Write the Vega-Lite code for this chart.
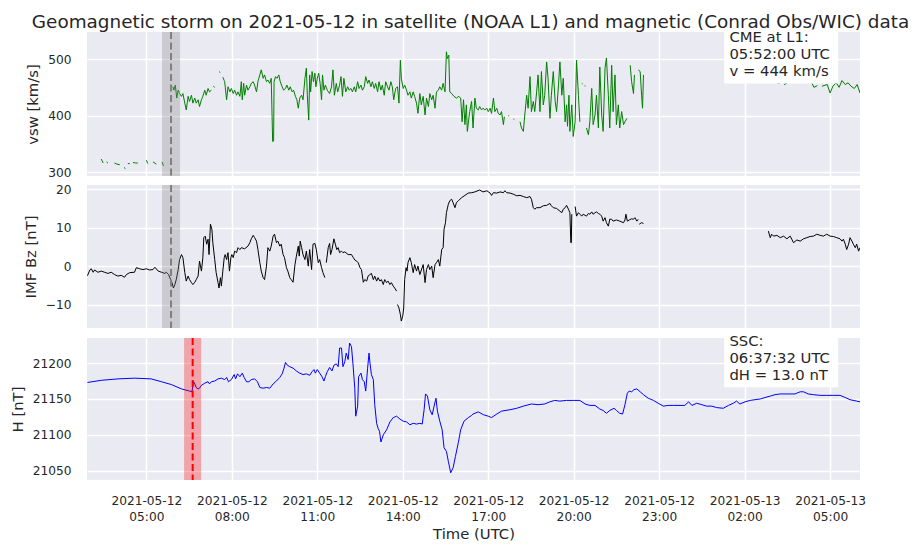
{
"$schema": "https://vega.github.io/schema/vega-lite/v6.json",
"background": "white",
"padding": {"left": 10, "top": 13, "right": 5, "bottom": 0},
"spacing": 1,
"config": {
  "font": "DejaVu Sans",
  "view": {"fill": "#EAEAF2", "stroke": null},
  "axis": {"domain": false, "ticks": false, "grid": true, "gridColor": "#ffffff", "gridWidth": 1.5, "labelFont": "DejaVu Sans", "labelFontSize": 12.2, "labelColor": "#262626", "labelPadding": 16, "titleFont": "DejaVu Sans", "titleFontSize": 14.8, "titleFontWeight": "normal", "titleColor": "#262626", "titlePadding": 7},
  "text": {"font": "DejaVu Sans"}
},
"datasets": {
  "vsw": [
    {"t":"2021-05-12T03:25","v":323},{"t":"2021-05-12T03:29","v":316},{"t":"2021-05-12T03:31","v":null},
    {"t":"2021-05-12T03:36","v":318},{"t":"2021-05-12T03:39","v":316},{"t":"2021-05-12T03:41","v":null},
    {"t":"2021-05-12T03:53","v":316},{"t":"2021-05-12T03:58","v":314},{"t":"2021-05-12T04:04","v":313},{"t":"2021-05-12T04:06","v":null},
    {"t":"2021-05-12T04:13","v":308},{"t":"2021-05-12T04:16","v":306},{"t":"2021-05-12T04:18","v":null},
    {"t":"2021-05-12T04:21","v":315},{"t":"2021-05-12T04:25","v":315},{"t":"2021-05-12T04:27","v":null},
    {"t":"2021-05-12T04:32","v":317},{"t":"2021-05-12T04:37","v":316},{"t":"2021-05-12T04:42","v":316},{"t":"2021-05-12T04:44","v":null},
    {"t":"2021-05-12T05:00","v":321},{"t":"2021-05-12T05:03","v":315},{"t":"2021-05-12T05:05","v":null},
    {"t":"2021-05-12T05:14","v":318},{"t":"2021-05-12T05:21","v":314},{"t":"2021-05-12T05:23","v":null},
    {"t":"2021-05-12T05:33","v":318},{"t":"2021-05-12T05:36","v":311},{"t":"2021-05-12T05:38","v":null},
    {"t":"2021-05-12T05:56","v":451},{"t":"2021-05-12T05:58","v":445},{"t":"2021-05-12T06:01","v":454},{"t":"2021-05-12T06:04","v":431},
    {"t":"2021-05-12T06:07","v":445},{"t":"2021-05-12T06:10","v":439},{"t":"2021-05-12T06:14","v":434},{"t":"2021-05-12T06:17","v":439},
    {"t":"2021-05-12T06:21","v":422},{"t":"2021-05-12T06:24","v":410},{"t":"2021-05-12T06:28","v":434},{"t":"2021-05-12T06:31","v":425},
    {"t":"2021-05-12T06:35","v":436},{"t":"2021-05-12T06:38","v":422},{"t":"2021-05-12T06:42","v":431},{"t":"2021-05-12T06:45","v":422},
    {"t":"2021-05-12T06:49","v":428},{"t":"2021-05-12T06:52","v":416},{"t":"2021-05-12T06:56","v":428},{"t":"2021-05-12T06:59","v":434},
    {"t":"2021-05-12T07:03","v":445},{"t":"2021-05-12T07:06","v":436},{"t":"2021-05-12T07:10","v":448},{"t":"2021-05-12T07:13","v":442},
    {"t":"2021-05-12T07:17","v":445},{"t":"2021-05-12T07:19","v":null},{"t":"2021-05-12T07:21","v":452},{"t":"2021-05-12T07:24","v":450},
    {"t":"2021-05-12T07:26","v":null},{"t":"2021-05-12T07:34","v":478},{"t":"2021-05-12T07:35","v":476},{"t":"2021-05-12T07:38","v":null},
    {"t":"2021-05-12T07:41","v":468},{"t":"2021-05-12T07:44","v":462},{"t":"2021-05-12T07:45","v":460},{"t":"2021-05-12T07:49","v":428},
    {"t":"2021-05-12T07:52","v":451},{"t":"2021-05-12T07:56","v":442},{"t":"2021-05-12T07:59","v":448},{"t":"2021-05-12T08:03","v":439},
    {"t":"2021-05-12T08:06","v":445},{"t":"2021-05-12T08:10","v":436},{"t":"2021-05-12T08:13","v":442},{"t":"2021-05-12T08:17","v":434},
    {"t":"2021-05-12T08:20","v":460},{"t":"2021-05-12T08:22","v":428},{"t":"2021-05-12T08:25","v":457},{"t":"2021-05-12T08:27","v":436},
    {"t":"2021-05-12T08:31","v":454},{"t":"2021-05-12T08:34","v":445},{"t":"2021-05-12T08:38","v":451},{"t":"2021-05-12T08:41","v":457},
    {"t":"2021-05-12T08:45","v":460},{"t":"2021-05-12T08:48","v":454},{"t":"2021-05-12T08:52","v":442},{"t":"2021-05-12T08:55","v":460},
    {"t":"2021-05-12T08:59","v":472},{"t":"2021-05-12T09:02","v":481},{"t":"2021-05-12T09:06","v":466},{"t":"2021-05-12T09:09","v":472},
    {"t":"2021-05-12T09:13","v":460},{"t":"2021-05-12T09:16","v":463},{"t":"2021-05-12T09:20","v":457},{"t":"2021-05-12T09:23","v":466},
    {"t":"2021-05-12T09:26","v":354},{"t":"2021-05-12T09:28","v":355},{"t":"2021-05-12T09:29","v":460},{"t":"2021-05-12T09:32","v":469},
    {"t":"2021-05-12T09:35","v":466},{"t":"2021-05-12T09:39","v":472},{"t":"2021-05-12T09:42","v":460},{"t":"2021-05-12T09:46","v":451},
    {"t":"2021-05-12T09:49","v":445},{"t":"2021-05-12T09:53","v":448},{"t":"2021-05-12T09:56","v":454},{"t":"2021-05-12T10:00","v":445},
    {"t":"2021-05-12T10:03","v":451},{"t":"2021-05-12T10:07","v":442},{"t":"2021-05-12T10:10","v":445},{"t":"2021-05-12T10:14","v":434},
    {"t":"2021-05-12T10:17","v":428},{"t":"2021-05-12T10:20","v":413},{"t":"2021-05-12T10:23","v":431},{"t":"2021-05-12T10:27","v":436},
    {"t":"2021-05-12T10:30","v":428},{"t":"2021-05-12T10:34","v":466},{"t":"2021-05-12T10:37","v":484},{"t":"2021-05-12T10:39","v":436},
    {"t":"2021-05-12T10:42","v":392},{"t":"2021-05-12T10:44","v":472},{"t":"2021-05-12T10:46","v":442},{"t":"2021-05-12T10:49","v":478},
    {"t":"2021-05-12T10:52","v":460},{"t":"2021-05-12T10:55","v":475},{"t":"2021-05-12T10:57","v":451},{"t":"2021-05-12T11:00","v":466},
    {"t":"2021-05-12T11:03","v":475},{"t":"2021-05-12T11:06","v":457},{"t":"2021-05-12T11:09","v":428},{"t":"2021-05-12T11:11","v":472},
    {"t":"2021-05-12T11:14","v":445},{"t":"2021-05-12T11:17","v":454},{"t":"2021-05-12T11:21","v":445},{"t":"2021-05-12T11:26","v":439},
    {"t":"2021-05-12T11:30","v":451},{"t":"2021-05-12T11:33","v":481},{"t":"2021-05-12T11:36","v":436},{"t":"2021-05-12T11:40","v":457},
    {"t":"2021-05-12T11:43","v":442},{"t":"2021-05-12T11:47","v":454},{"t":"2021-05-12T11:50","v":469},{"t":"2021-05-12T11:53","v":434},
    {"t":"2021-05-12T11:56","v":466},{"t":"2021-05-12T12:00","v":442},{"t":"2021-05-12T12:04","v":451},{"t":"2021-05-12T12:07","v":445},
    {"t":"2021-05-12T12:11","v":448},{"t":"2021-05-12T12:14","v":442},{"t":"2021-05-12T12:18","v":451},{"t":"2021-05-12T12:21","v":442},
    {"t":"2021-05-12T12:25","v":460},{"t":"2021-05-12T12:28","v":448},{"t":"2021-05-12T12:32","v":454},{"t":"2021-05-12T12:35","v":445},
    {"t":"2021-05-12T12:39","v":451},{"t":"2021-05-12T12:42","v":469},{"t":"2021-05-12T12:46","v":457},{"t":"2021-05-12T12:49","v":463},
    {"t":"2021-05-12T12:53","v":451},{"t":"2021-05-12T12:56","v":460},{"t":"2021-05-12T13:00","v":448},{"t":"2021-05-12T13:03","v":457},
    {"t":"2021-05-12T13:07","v":442},{"t":"2021-05-12T13:10","v":460},{"t":"2021-05-12T13:14","v":445},{"t":"2021-05-12T13:17","v":454},
    {"t":"2021-05-12T13:21","v":436},{"t":"2021-05-12T13:24","v":460},{"t":"2021-05-12T13:28","v":451},{"t":"2021-05-12T13:31","v":445},
    {"t":"2021-05-12T13:35","v":460},{"t":"2021-05-12T13:38","v":451},{"t":"2021-05-12T13:41","v":428},{"t":"2021-05-12T13:45","v":448},
    {"t":"2021-05-12T13:49","v":451},{"t":"2021-05-12T13:52","v":422},{"t":"2021-05-12T13:55","v":498},{"t":"2021-05-12T13:57","v":466},
    {"t":"2021-05-12T14:01","v":448},{"t":"2021-05-12T14:04","v":454},{"t":"2021-05-12T14:08","v":445},{"t":"2021-05-12T14:11","v":436},
    {"t":"2021-05-12T14:15","v":442},{"t":"2021-05-12T14:18","v":431},{"t":"2021-05-12T14:22","v":442},{"t":"2021-05-12T14:25","v":434},
    {"t":"2021-05-12T14:29","v":422},{"t":"2021-05-12T14:32","v":404},{"t":"2021-05-12T14:36","v":439},{"t":"2021-05-12T14:39","v":419},
    {"t":"2021-05-12T14:43","v":434},{"t":"2021-05-12T14:47","v":401},{"t":"2021-05-12T14:50","v":431},{"t":"2021-05-12T14:54","v":416},
    {"t":"2021-05-12T14:57","v":439},{"t":"2021-05-12T15:01","v":428},{"t":"2021-05-12T15:04","v":436},{"t":"2021-05-12T15:08","v":413},
    {"t":"2021-05-12T15:11","v":442},{"t":"2021-05-12T15:15","v":445},{"t":"2021-05-12T15:18","v":451},{"t":"2021-05-12T15:22","v":445},
    {"t":"2021-05-12T15:25","v":457},{"t":"2021-05-12T15:29","v":442},{"t":"2021-05-12T15:32","v":513},{"t":"2021-05-12T15:34","v":501},
    {"t":"2021-05-12T15:37","v":507},{"t":"2021-05-12T15:39","v":442},{"t":"2021-05-12T15:43","v":439},{"t":"2021-05-12T15:48","v":434},
    {"t":"2021-05-12T15:53","v":431},{"t":"2021-05-12T15:58","v":434},{"t":"2021-05-12T16:02","v":431},{"t":"2021-05-12T16:05","v":389},
    {"t":"2021-05-12T16:08","v":428},{"t":"2021-05-12T16:11","v":384},{"t":"2021-05-12T16:14","v":419},{"t":"2021-05-12T16:16","v":372},
    {"t":"2021-05-12T16:21","v":407},{"t":"2021-05-12T16:25","v":425},{"t":"2021-05-12T16:28","v":378},{"t":"2021-05-12T16:32","v":431},
    {"t":"2021-05-12T16:35","v":413},{"t":"2021-05-12T16:39","v":410},{"t":"2021-05-12T16:42","v":416},{"t":"2021-05-12T16:46","v":410},
    {"t":"2021-05-12T16:49","v":413},{"t":"2021-05-12T16:53","v":410},{"t":"2021-05-12T16:57","v":413},{"t":"2021-05-12T17:00","v":407},
    {"t":"2021-05-12T17:04","v":413},{"t":"2021-05-12T17:07","v":404},{"t":"2021-05-12T17:11","v":431},{"t":"2021-05-12T17:14","v":407},
    {"t":"2021-05-12T17:18","v":413},{"t":"2021-05-12T17:21","v":404},{"t":"2021-05-12T17:25","v":401},{"t":"2021-05-12T17:28","v":407},
    {"t":"2021-05-12T17:32","v":384},{"t":"2021-05-12T17:34","v":398},{"t":"2021-05-12T17:36","v":null},
    {"t":"2021-05-12T17:42","v":400},{"t":"2021-05-12T17:44","v":399},{"t":"2021-05-12T17:46","v":null},
    {"t":"2021-05-12T17:53","v":394},{"t":"2021-05-12T17:55","v":393},{"t":"2021-05-12T17:57","v":null},
    {"t":"2021-05-12T18:07","v":389},{"t":"2021-05-12T18:10","v":378},{"t":"2021-05-12T18:14","v":372},{"t":"2021-05-12T18:17","v":401},
    {"t":"2021-05-12T18:21","v":436},{"t":"2021-05-12T18:24","v":413},{"t":"2021-05-12T18:28","v":469},{"t":"2021-05-12T18:31","v":407},
    {"t":"2021-05-12T18:35","v":425},{"t":"2021-05-12T18:38","v":407},{"t":"2021-05-12T18:42","v":442},{"t":"2021-05-12T18:45","v":472},
    {"t":"2021-05-12T18:49","v":407},{"t":"2021-05-12T18:52","v":478},{"t":"2021-05-12T18:56","v":419},{"t":"2021-05-12T18:59","v":436},
    {"t":"2021-05-12T19:03","v":495},{"t":"2021-05-12T19:06","v":466},{"t":"2021-05-12T19:10","v":395},{"t":"2021-05-12T19:13","v":436},
    {"t":"2021-05-12T19:17","v":478},{"t":"2021-05-12T19:21","v":425},{"t":"2021-05-12T19:24","v":407},{"t":"2021-05-12T19:28","v":454},
    {"t":"2021-05-12T19:31","v":495},{"t":"2021-05-12T19:35","v":436},{"t":"2021-05-12T19:38","v":466},{"t":"2021-05-12T19:42","v":389},
    {"t":"2021-05-12T19:45","v":419},{"t":"2021-05-12T19:47","v":381},{"t":"2021-05-12T19:50","v":436},{"t":"2021-05-12T19:52","v":372},
    {"t":"2021-05-12T19:56","v":419},{"t":"2021-05-12T19:59","v":363},{"t":"2021-05-12T20:03","v":389},{"t":"2021-05-12T20:06","v":498},
    {"t":"2021-05-12T20:10","v":436},{"t":"2021-05-12T20:13","v":389},{"t":"2021-05-12T20:15","v":null},
    {"t":"2021-05-12T20:17","v":457},{"t":"2021-05-12T20:19","v":456},{"t":"2021-05-12T20:21","v":null},
    {"t":"2021-05-12T20:23","v":453},{"t":"2021-05-12T20:25","v":452},{"t":"2021-05-12T20:26","v":null},
    {"t":"2021-05-12T20:27","v":378},{"t":"2021-05-12T20:31","v":366},{"t":"2021-05-12T20:34","v":389},{"t":"2021-05-12T20:38","v":448},
    {"t":"2021-05-12T20:41","v":384},{"t":"2021-05-12T20:45","v":401},{"t":"2021-05-12T20:48","v":436},{"t":"2021-05-12T20:52","v":378},
    {"t":"2021-05-12T20:55","v":486},{"t":"2021-05-12T20:59","v":401},{"t":"2021-05-12T21:02","v":372},{"t":"2021-05-12T21:06","v":484},
    {"t":"2021-05-12T21:09","v":502},{"t":"2021-05-12T21:13","v":436},{"t":"2021-05-12T21:16","v":378},{"t":"2021-05-12T21:20","v":489},
    {"t":"2021-05-12T21:23","v":407},{"t":"2021-05-12T21:27","v":472},{"t":"2021-05-12T21:30","v":384},{"t":"2021-05-12T21:34","v":419},
    {"t":"2021-05-12T21:37","v":378},{"t":"2021-05-12T21:41","v":407},{"t":"2021-05-12T21:45","v":384},{"t":"2021-05-12T21:48","v":389},
    {"t":"2021-05-12T21:52","v":395},{"t":"2021-05-12T21:55","v":null},
    {"t":"2021-05-12T21:59","v":489},{"t":"2021-05-12T22:02","v":460},{"t":"2021-05-12T22:06","v":439},{"t":"2021-05-12T22:08","v":472},{"t":"2021-05-12T22:10","v":null},
    {"t":"2021-05-12T22:16","v":481},{"t":"2021-05-12T22:20","v":478},{"t":"2021-05-12T22:23","v":436},{"t":"2021-05-12T22:25","v":413},{"t":"2021-05-12T22:27","v":472},{"t":"2021-05-12T22:30","v":null},
    {"t":"2021-05-13T03:10","v":457},{"t":"2021-05-13T03:17","v":459},{"t":"2021-05-13T03:20","v":null},
    {"t":"2021-05-13T03:23","v":455},{"t":"2021-05-13T03:29","v":457},{"t":"2021-05-13T03:31","v":null},
    {"t":"2021-05-13T04:22","v":457},{"t":"2021-05-13T04:26","v":450},{"t":"2021-05-13T04:33","v":453},{"t":"2021-05-13T04:35","v":null},
    {"t":"2021-05-13T04:43","v":452},{"t":"2021-05-13T04:54","v":455},{"t":"2021-05-13T05:00","v":440},{"t":"2021-05-13T05:06","v":452},
    {"t":"2021-05-13T05:13","v":458},{"t":"2021-05-13T05:19","v":450},{"t":"2021-05-13T05:25","v":462},{"t":"2021-05-13T05:32","v":455},
    {"t":"2021-05-13T05:38","v":458},{"t":"2021-05-13T05:44","v":452},{"t":"2021-05-13T05:51","v":448},{"t":"2021-05-13T05:57","v":455},
    {"t":"2021-05-13T06:03","v":440}
  ],
  "bz": [
    {"t":"2021-05-12T02:56","bz":-2.5},{"t":"2021-05-12T03:01","bz":-1.0},{"t":"2021-05-12T03:04","bz":-0.7},{"t":"2021-05-12T03:08","bz":-1.6},
    {"t":"2021-05-12T03:11","bz":-1.0},{"t":"2021-05-12T03:18","bz":-1.6},{"t":"2021-05-12T03:25","bz":-1.3},{"t":"2021-05-12T03:32","bz":-1.6},
    {"t":"2021-05-12T03:39","bz":-1.9},{"t":"2021-05-12T03:46","bz":-1.6},{"t":"2021-05-12T03:53","bz":-2.2},{"t":"2021-05-12T04:00","bz":-2.6},
    {"t":"2021-05-12T04:07","bz":-2.4},{"t":"2021-05-12T04:14","bz":-2.9},{"t":"2021-05-12T04:18","bz":-2.2},{"t":"2021-05-12T04:25","bz":-1.7},
    {"t":"2021-05-12T04:35","bz":-1.6},{"t":"2021-05-12T04:39","bz":-0.4},{"t":"2021-05-12T04:46","bz":-0.7},{"t":"2021-05-12T04:53","bz":-0.9},
    {"t":"2021-05-12T05:00","bz":-0.7},{"t":"2021-05-12T05:07","bz":-1.0},{"t":"2021-05-12T05:14","bz":-0.9},{"t":"2021-05-12T05:18","bz":-0.3},
    {"t":"2021-05-12T05:25","bz":-1.3},{"t":"2021-05-12T05:32","bz":-1.6},{"t":"2021-05-12T05:39","bz":-1.9},{"t":"2021-05-12T05:42","bz":-1.6},
    {"t":"2021-05-12T05:47","bz":-2.2},{"t":"2021-05-12T05:51","bz":-3.5},{"t":"2021-05-12T05:54","bz":-4.3},{"t":"2021-05-12T05:57","bz":-5.7},
    {"t":"2021-05-12T06:00","bz":-4.8},{"t":"2021-05-12T06:03","bz":-3.5},{"t":"2021-05-12T06:07","bz":-0.9},{"t":"2021-05-12T06:10","bz":1.7},
    {"t":"2021-05-12T06:14","bz":3.0},{"t":"2021-05-12T06:17","bz":2.2},{"t":"2021-05-12T06:21","bz":-1.7},{"t":"2021-05-12T06:24","bz":-3.9},
    {"t":"2021-05-12T06:28","bz":-2.6},{"t":"2021-05-12T06:31","bz":-3.5},{"t":"2021-05-12T06:35","bz":-4.3},{"t":"2021-05-12T06:38","bz":-4.8},
    {"t":"2021-05-12T06:42","bz":-4.2},{"t":"2021-05-12T06:45","bz":-3.5},{"t":"2021-05-12T06:49","bz":-2.6},{"t":"2021-05-12T06:52","bz":1.3},
    {"t":"2021-05-12T06:56","bz":-1.3},{"t":"2021-05-12T06:59","bz":2.2},{"t":"2021-05-12T07:01","bz":7.4},{"t":"2021-05-12T07:04","bz":7.8},
    {"t":"2021-05-12T07:07","bz":5.7},{"t":"2021-05-12T07:10","bz":7.0},{"t":"2021-05-12T07:12","bz":3.0},{"t":"2021-05-12T07:15","bz":10.9},
    {"t":"2021-05-12T07:18","bz":9.6},{"t":"2021-05-12T07:20","bz":6.1},{"t":"2021-05-12T07:24","bz":1.7},{"t":"2021-05-12T07:27","bz":-1.7},
    {"t":"2021-05-12T07:31","bz":-4.3},{"t":"2021-05-12T07:33","bz":-5.7},{"t":"2021-05-12T07:36","bz":-3.0},{"t":"2021-05-12T07:38","bz":-5.2},
    {"t":"2021-05-12T07:41","bz":-1.3},{"t":"2021-05-12T07:44","bz":2.2},{"t":"2021-05-12T07:46","bz":3.0},{"t":"2021-05-12T07:49","bz":1.7},
    {"t":"2021-05-12T07:52","bz":3.5},{"t":"2021-05-12T07:55","bz":-1.3},{"t":"2021-05-12T07:58","bz":2.2},{"t":"2021-05-12T08:00","bz":3.0},
    {"t":"2021-05-12T08:03","bz":2.2},{"t":"2021-05-12T08:06","bz":3.9},{"t":"2021-05-12T08:10","bz":3.5},{"t":"2021-05-12T08:13","bz":4.8},
    {"t":"2021-05-12T08:17","bz":4.3},{"t":"2021-05-12T08:20","bz":4.8},{"t":"2021-05-12T08:27","bz":4.5},{"t":"2021-05-12T08:34","bz":5.2},
    {"t":"2021-05-12T08:38","bz":6.1},{"t":"2021-05-12T08:41","bz":7.1},{"t":"2021-05-12T08:45","bz":8.0},{"t":"2021-05-12T08:48","bz":7.4},
    {"t":"2021-05-12T08:52","bz":6.5},{"t":"2021-05-12T08:55","bz":4.3},{"t":"2021-05-12T08:59","bz":0.9},{"t":"2021-05-12T09:02","bz":-1.3},
    {"t":"2021-05-12T09:06","bz":-3.0},{"t":"2021-05-12T09:09","bz":-3.5},{"t":"2021-05-12T09:13","bz":0.0},{"t":"2021-05-12T09:16","bz":4.8},
    {"t":"2021-05-12T09:20","bz":3.9},{"t":"2021-05-12T09:23","bz":5.2},{"t":"2021-05-12T09:27","bz":7.8},{"t":"2021-05-12T09:30","bz":8.3},
    {"t":"2021-05-12T09:34","bz":6.1},{"t":"2021-05-12T09:37","bz":6.5},{"t":"2021-05-12T09:41","bz":5.2},{"t":"2021-05-12T09:44","bz":5.7},
    {"t":"2021-05-12T09:48","bz":3.0},{"t":"2021-05-12T09:51","bz":2.2},{"t":"2021-05-12T09:55","bz":-0.4},{"t":"2021-05-12T09:58","bz":-1.3},
    {"t":"2021-05-12T10:02","bz":-3.0},{"t":"2021-05-12T10:05","bz":-3.5},{"t":"2021-05-12T10:09","bz":-4.2},{"t":"2021-05-12T10:13","bz":0.4},
    {"t":"2021-05-12T10:16","bz":2.6},{"t":"2021-05-12T10:20","bz":5.2},{"t":"2021-05-12T10:22","bz":2.6},{"t":"2021-05-12T10:24","bz":6.5},
    {"t":"2021-05-12T10:27","bz":4.8},{"t":"2021-05-12T10:30","bz":3.0},{"t":"2021-05-12T10:34","bz":1.7},{"t":"2021-05-12T10:37","bz":3.9},
    {"t":"2021-05-12T10:41","bz":0.0},{"t":"2021-05-12T10:44","bz":4.3},{"t":"2021-05-12T10:48","bz":-0.9},{"t":"2021-05-12T10:51","bz":5.7},
    {"t":"2021-05-12T10:55","bz":5.9},{"t":"2021-05-12T10:58","bz":4.3},{"t":"2021-05-12T11:02","bz":0.9},{"t":"2021-05-12T11:05","bz":1.7},
    {"t":"2021-05-12T11:09","bz":-0.4},{"t":"2021-05-12T11:12","bz":-1.7},{"t":"2021-05-12T11:16","bz":-3.0},{"t":"2021-05-12T11:17","bz":null},
    {"t":"2021-05-12T11:19","bz":0.9},{"t":"2021-05-12T11:23","bz":4.8},{"t":"2021-05-12T11:26","bz":5.9},{"t":"2021-05-12T11:28","bz":3.0},
    {"t":"2021-05-12T11:31","bz":4.3},{"t":"2021-05-12T11:35","bz":7.1},{"t":"2021-05-12T11:38","bz":5.7},{"t":"2021-05-12T11:41","bz":4.3},
    {"t":"2021-05-12T11:44","bz":4.8},{"t":"2021-05-12T11:47","bz":3.5},{"t":"2021-05-12T11:51","bz":3.9},{"t":"2021-05-12T11:54","bz":3.5},
    {"t":"2021-05-12T11:58","bz":3.7},{"t":"2021-05-12T12:05","bz":3.0},{"t":"2021-05-12T12:12","bz":3.0},{"t":"2021-05-12T12:16","bz":2.2},
    {"t":"2021-05-12T12:19","bz":1.6},{"t":"2021-05-12T12:23","bz":1.3},{"t":"2021-05-12T12:26","bz":0.9},{"t":"2021-05-12T12:30","bz":-0.4},
    {"t":"2021-05-12T12:33","bz":-0.9},{"t":"2021-05-12T12:37","bz":-4.2},{"t":"2021-05-12T12:40","bz":-3.5},{"t":"2021-05-12T12:44","bz":-3.9},
    {"t":"2021-05-12T12:47","bz":-2.6},{"t":"2021-05-12T12:51","bz":-2.2},{"t":"2021-05-12T12:54","bz":-1.9},{"t":"2021-05-12T12:58","bz":-3.5},
    {"t":"2021-05-12T13:01","bz":-2.6},{"t":"2021-05-12T13:05","bz":-3.9},{"t":"2021-05-12T13:08","bz":-3.0},{"t":"2021-05-12T13:12","bz":-3.9},
    {"t":"2021-05-12T13:15","bz":-3.5},{"t":"2021-05-12T13:19","bz":-4.8},{"t":"2021-05-12T13:22","bz":-3.5},{"t":"2021-05-12T13:26","bz":-4.3},
    {"t":"2021-05-12T13:29","bz":-3.9},{"t":"2021-05-12T13:33","bz":-4.8},{"t":"2021-05-12T13:36","bz":-4.3},{"t":"2021-05-12T13:40","bz":-5.2},
    {"t":"2021-05-12T13:43","bz":-5.7},{"t":"2021-05-12T13:47","bz":-6.5},{"t":"2021-05-12T13:48","bz":null},
    {"t":"2021-05-12T13:49","bz":-10.0},{"t":"2021-05-12T13:52","bz":-10.9},{"t":"2021-05-12T13:55","bz":-12.6},{"t":"2021-05-12T13:57","bz":-14.3},
    {"t":"2021-05-12T14:00","bz":-13.0},{"t":"2021-05-12T14:02","bz":-10.9},{"t":"2021-05-12T14:04","bz":-3.5},{"t":"2021-05-12T14:07","bz":-0.4},
    {"t":"2021-05-12T14:09","bz":-1.3},{"t":"2021-05-12T14:11","bz":0.9},{"t":"2021-05-12T14:15","bz":2.2},{"t":"2021-05-12T14:18","bz":0.9},
    {"t":"2021-05-12T14:22","bz":-1.7},{"t":"2021-05-12T14:25","bz":0.4},{"t":"2021-05-12T14:29","bz":-1.3},{"t":"2021-05-12T14:32","bz":0.0},
    {"t":"2021-05-12T14:36","bz":-2.2},{"t":"2021-05-12T14:43","bz":0.4},{"t":"2021-05-12T14:47","bz":-4.3},{"t":"2021-05-12T14:50","bz":-0.9},
    {"t":"2021-05-12T14:54","bz":0.4},{"t":"2021-05-12T14:57","bz":-0.9},{"t":"2021-05-12T15:01","bz":0.0},{"t":"2021-05-12T15:04","bz":-3.0},
    {"t":"2021-05-12T15:08","bz":0.4},{"t":"2021-05-12T15:11","bz":0.9},{"t":"2021-05-12T15:15","bz":1.7},{"t":"2021-05-12T15:18","bz":0.0},
    {"t":"2021-05-12T15:22","bz":4.3},{"t":"2021-05-12T15:25","bz":4.8},{"t":"2021-05-12T15:27","bz":9.6},{"t":"2021-05-12T15:30","bz":11.3},
    {"t":"2021-05-12T15:32","bz":13.9},{"t":"2021-05-12T15:36","bz":16.1},{"t":"2021-05-12T15:39","bz":17.0},{"t":"2021-05-12T15:43","bz":17.4},
    {"t":"2021-05-12T15:46","bz":16.5},{"t":"2021-05-12T15:50","bz":15.2},{"t":"2021-05-12T15:53","bz":16.5},{"t":"2021-05-12T15:57","bz":17.0},
    {"t":"2021-05-12T16:04","bz":17.8},{"t":"2021-05-12T16:11","bz":18.4},{"t":"2021-05-12T16:18","bz":19.0},{"t":"2021-05-12T16:25","bz":19.1},
    {"t":"2021-05-12T16:32","bz":19.3},{"t":"2021-05-12T16:42","bz":19.8},{"t":"2021-05-12T16:49","bz":19.3},{"t":"2021-05-12T16:57","bz":19.6},
    {"t":"2021-05-12T17:04","bz":19.0},{"t":"2021-05-12T17:07","bz":18.4},{"t":"2021-05-12T17:11","bz":19.1},{"t":"2021-05-12T17:18","bz":19.0},
    {"t":"2021-05-12T17:25","bz":19.3},{"t":"2021-05-12T17:32","bz":19.1},{"t":"2021-05-12T17:35","bz":19.6},{"t":"2021-05-12T17:39","bz":19.1},
    {"t":"2021-05-12T17:46","bz":19.0},{"t":"2021-05-12T17:53","bz":18.7},{"t":"2021-05-12T18:00","bz":18.3},{"t":"2021-05-12T18:07","bz":18.4},
    {"t":"2021-05-12T18:14","bz":18.1},{"t":"2021-05-12T18:21","bz":17.8},{"t":"2021-05-12T18:28","bz":18.1},{"t":"2021-05-12T18:31","bz":17.4},
    {"t":"2021-05-12T18:35","bz":15.2},{"t":"2021-05-12T18:38","bz":14.8},{"t":"2021-05-12T18:42","bz":15.2},{"t":"2021-05-12T18:49","bz":15.2},
    {"t":"2021-05-12T18:56","bz":15.7},{"t":"2021-05-12T19:03","bz":15.8},{"t":"2021-05-12T19:10","bz":16.3},{"t":"2021-05-12T19:13","bz":15.7},
    {"t":"2021-05-12T19:17","bz":15.2},{"t":"2021-05-12T19:24","bz":15.0},{"t":"2021-05-12T19:31","bz":14.3},{"t":"2021-05-12T19:35","bz":13.9},
    {"t":"2021-05-12T19:38","bz":14.8},{"t":"2021-05-12T19:42","bz":15.2},{"t":"2021-05-12T19:45","bz":15.8},{"t":"2021-05-12T19:49","bz":14.8},
    {"t":"2021-05-12T19:52","bz":13.9},{"t":"2021-05-12T19:54","bz":6.1},{"t":"2021-05-12T19:55","bz":6.1},{"t":"2021-05-12T19:56","bz":13.5},
    {"t":"2021-05-12T19:59","bz":null},
    {"t":"2021-05-12T20:03","bz":15.5},{"t":"2021-05-12T20:06","bz":13.0},{"t":"2021-05-12T20:10","bz":13.9},{"t":"2021-05-12T20:13","bz":13.5},
    {"t":"2021-05-12T20:17","bz":13.0},{"t":"2021-05-12T20:20","bz":13.5},{"t":"2021-05-12T20:24","bz":13.2},{"t":"2021-05-12T20:27","bz":13.0},
    {"t":"2021-05-12T20:31","bz":13.7},{"t":"2021-05-12T20:34","bz":13.5},{"t":"2021-05-12T20:38","bz":14.1},{"t":"2021-05-12T20:41","bz":13.5},
    {"t":"2021-05-12T20:45","bz":13.9},{"t":"2021-05-12T20:48","bz":14.1},{"t":"2021-05-12T20:52","bz":13.7},{"t":"2021-05-12T20:55","bz":13.5},
    {"t":"2021-05-12T20:59","bz":13.0},{"t":"2021-05-12T21:02","bz":11.7},{"t":"2021-05-12T21:06","bz":12.6},{"t":"2021-05-12T21:09","bz":11.3},
    {"t":"2021-05-12T21:13","bz":10.4},{"t":"2021-05-12T21:16","bz":12.2},{"t":"2021-05-12T21:20","bz":12.2},{"t":"2021-05-12T21:23","bz":11.7},
    {"t":"2021-05-12T21:30","bz":12.0},{"t":"2021-05-12T21:37","bz":11.7},{"t":"2021-05-12T21:45","bz":11.3},{"t":"2021-05-12T21:48","bz":12.0},
    {"t":"2021-05-12T21:50","bz":13.5},{"t":"2021-05-12T21:53","bz":11.7},{"t":"2021-05-12T21:57","bz":12.0},{"t":"2021-05-12T22:02","bz":12.3},
    {"t":"2021-05-12T22:06","bz":12.2},{"t":"2021-05-12T22:09","bz":12.6},{"t":"2021-05-12T22:13","bz":11.7},{"t":"2021-05-12T22:16","bz":12.2},
    {"t":"2021-05-12T22:17","bz":null},
    {"t":"2021-05-12T22:18","bz":10.9},{"t":"2021-05-12T22:23","bz":11.3},{"t":"2021-05-12T22:27","bz":11.1},{"t":"2021-05-12T22:30","bz":null},
    {"t":"2021-05-13T02:50","bz":9.1},{"t":"2021-05-13T02:54","bz":7.4},{"t":"2021-05-13T02:57","bz":8.3},{"t":"2021-05-13T03:01","bz":7.8},
    {"t":"2021-05-13T03:08","bz":8.0},{"t":"2021-05-13T03:15","bz":7.4},{"t":"2021-05-13T03:22","bz":7.8},{"t":"2021-05-13T03:29","bz":7.1},
    {"t":"2021-05-13T03:36","bz":7.8},{"t":"2021-05-13T03:43","bz":6.1},{"t":"2021-05-13T03:50","bz":6.8},{"t":"2021-05-13T03:57","bz":6.5},
    {"t":"2021-05-13T04:04","bz":7.1},{"t":"2021-05-13T04:11","bz":7.4},{"t":"2021-05-13T04:18","bz":7.7},{"t":"2021-05-13T04:25","bz":7.8},
    {"t":"2021-05-13T04:32","bz":8.3},{"t":"2021-05-13T04:39","bz":8.0},{"t":"2021-05-13T04:46","bz":7.8},{"t":"2021-05-13T04:53","bz":8.3},
    {"t":"2021-05-13T05:00","bz":7.8},{"t":"2021-05-13T05:07","bz":7.7},{"t":"2021-05-13T05:14","bz":7.4},{"t":"2021-05-13T05:21","bz":7.1},
    {"t":"2021-05-13T05:25","bz":6.5},{"t":"2021-05-13T05:28","bz":7.0},{"t":"2021-05-13T05:32","bz":5.7},{"t":"2021-05-13T05:35","bz":4.3},
    {"t":"2021-05-13T05:39","bz":5.7},{"t":"2021-05-13T05:42","bz":7.4},{"t":"2021-05-13T05:46","bz":6.5},{"t":"2021-05-13T05:49","bz":5.7},
    {"t":"2021-05-13T05:53","bz":4.8},{"t":"2021-05-13T05:56","bz":5.7},{"t":"2021-05-13T06:00","bz":3.9},{"t":"2021-05-13T06:03","bz":4.8}
  ],
  "hh": [
    {"t":"2021-05-12T02:56","h":21173},{"t":"2021-05-12T03:25","h":21176},{"t":"2021-05-12T04:00","h":21178},{"t":"2021-05-12T04:35","h":21179},
    {"t":"2021-05-12T05:10","h":21178},{"t":"2021-05-12T05:32","h":21174},{"t":"2021-05-12T05:53","h":21170},{"t":"2021-05-12T06:14","h":21164},
    {"t":"2021-05-12T06:31","h":21161},{"t":"2021-05-12T06:36","h":21160},{"t":"2021-05-12T06:38","h":21168},{"t":"2021-05-12T06:39","h":21175},
    {"t":"2021-05-12T06:42","h":21171},{"t":"2021-05-12T06:45","h":21166},{"t":"2021-05-12T06:49","h":21164},{"t":"2021-05-12T06:52","h":21165},
    {"t":"2021-05-12T06:56","h":21169},{"t":"2021-05-12T07:03","h":21172},{"t":"2021-05-12T07:10","h":21174},{"t":"2021-05-12T07:13","h":21171},
    {"t":"2021-05-12T07:17","h":21174},{"t":"2021-05-12T07:24","h":21175},{"t":"2021-05-12T07:31","h":21178},{"t":"2021-05-12T07:38","h":21179},
    {"t":"2021-05-12T07:45","h":21177},{"t":"2021-05-12T07:49","h":21180},{"t":"2021-05-12T07:53","h":21174},{"t":"2021-05-12T07:59","h":21177},
    {"t":"2021-05-12T08:05","h":21184},{"t":"2021-05-12T08:08","h":21178},{"t":"2021-05-12T08:12","h":21185},{"t":"2021-05-12T08:17","h":21181},
    {"t":"2021-05-12T08:22","h":21186},{"t":"2021-05-12T08:26","h":21180},{"t":"2021-05-12T08:31","h":21174},{"t":"2021-05-12T08:36","h":21174},
    {"t":"2021-05-12T08:41","h":21177},{"t":"2021-05-12T08:48","h":21178},{"t":"2021-05-12T08:54","h":21174},{"t":"2021-05-12T08:59","h":21166},
    {"t":"2021-05-12T09:06","h":21165},{"t":"2021-05-12T09:13","h":21166},{"t":"2021-05-12T09:20","h":21165},{"t":"2021-05-12T09:27","h":21171},
    {"t":"2021-05-12T09:34","h":21175},{"t":"2021-05-12T09:41","h":21180},{"t":"2021-05-12T09:46","h":21185},{"t":"2021-05-12T09:50","h":21193},
    {"t":"2021-05-12T09:53","h":21201},{"t":"2021-05-12T09:57","h":21197},{"t":"2021-05-12T10:02","h":21195},{"t":"2021-05-12T10:09","h":21193},
    {"t":"2021-05-12T10:16","h":21189},{"t":"2021-05-12T10:23","h":21186},{"t":"2021-05-12T10:30","h":21184},{"t":"2021-05-12T10:37","h":21185},
    {"t":"2021-05-12T10:44","h":21183},{"t":"2021-05-12T10:49","h":21188},{"t":"2021-05-12T10:53","h":21191},{"t":"2021-05-12T10:56","h":21186},
    {"t":"2021-05-12T11:00","h":21191},{"t":"2021-05-12T11:05","h":21186},{"t":"2021-05-12T11:10","h":21181},{"t":"2021-05-12T11:14","h":21175},
    {"t":"2021-05-12T11:17","h":21181},{"t":"2021-05-12T11:21","h":21188},{"t":"2021-05-12T11:26","h":21194},{"t":"2021-05-12T11:31","h":21189},
    {"t":"2021-05-12T11:35","h":21197},{"t":"2021-05-12T11:40","h":21199},{"t":"2021-05-12T11:44","h":21195},{"t":"2021-05-12T11:47","h":21221},
    {"t":"2021-05-12T11:51","h":21221},{"t":"2021-05-12T11:54","h":21195},{"t":"2021-05-12T11:58","h":21202},{"t":"2021-05-12T12:01","h":21214},
    {"t":"2021-05-12T12:05","h":21205},{"t":"2021-05-12T12:08","h":21228},{"t":"2021-05-12T12:12","h":21223},{"t":"2021-05-12T12:15","h":21200},
    {"t":"2021-05-12T12:19","h":21165},{"t":"2021-05-12T12:21","h":21126},{"t":"2021-05-12T12:25","h":21140},{"t":"2021-05-12T12:27","h":21181},
    {"t":"2021-05-12T12:32","h":21186},{"t":"2021-05-12T12:35","h":21177},{"t":"2021-05-12T12:39","h":21174},{"t":"2021-05-12T12:42","h":21161},
    {"t":"2021-05-12T12:46","h":21193},{"t":"2021-05-12T12:49","h":21214},{"t":"2021-05-12T12:51","h":21200},{"t":"2021-05-12T12:54","h":21184},
    {"t":"2021-05-12T12:58","h":21177},{"t":"2021-05-12T13:01","h":21142},{"t":"2021-05-12T13:05","h":21116},{"t":"2021-05-12T13:08","h":21109},
    {"t":"2021-05-12T13:11","h":21105},{"t":"2021-05-12T13:14","h":21090},{"t":"2021-05-12T13:19","h":21100},{"t":"2021-05-12T13:26","h":21107},
    {"t":"2021-05-12T13:33","h":21118},{"t":"2021-05-12T13:40","h":21124},{"t":"2021-05-12T13:47","h":21126},{"t":"2021-05-12T13:54","h":21122},
    {"t":"2021-05-12T14:01","h":21119},{"t":"2021-05-12T14:08","h":21118},{"t":"2021-05-12T14:15","h":21114},{"t":"2021-05-12T14:22","h":21116},
    {"t":"2021-05-12T14:29","h":21115},{"t":"2021-05-12T14:36","h":21116},{"t":"2021-05-12T14:41","h":21115},{"t":"2021-05-12T14:45","h":21135},
    {"t":"2021-05-12T14:48","h":21157},{"t":"2021-05-12T14:52","h":21154},{"t":"2021-05-12T14:57","h":21135},{"t":"2021-05-12T15:02","h":21128},
    {"t":"2021-05-12T15:06","h":21140},{"t":"2021-05-12T15:10","h":21151},{"t":"2021-05-12T15:13","h":21133},{"t":"2021-05-12T15:18","h":21119},
    {"t":"2021-05-12T15:23","h":21107},{"t":"2021-05-12T15:27","h":21082},{"t":"2021-05-12T15:32","h":21077},{"t":"2021-05-12T15:36","h":21063},
    {"t":"2021-05-12T15:41","h":21047},{"t":"2021-05-12T15:46","h":21054},{"t":"2021-05-12T15:51","h":21070},{"t":"2021-05-12T15:57","h":21089},
    {"t":"2021-05-12T16:02","h":21107},{"t":"2021-05-12T16:09","h":21119},{"t":"2021-05-12T16:18","h":21124},{"t":"2021-05-12T16:25","h":21127},
    {"t":"2021-05-12T16:28","h":21129},{"t":"2021-05-12T16:39","h":21132},{"t":"2021-05-12T16:50","h":21128},{"t":"2021-05-12T17:00","h":21126},
    {"t":"2021-05-12T17:07","h":21124},{"t":"2021-05-12T17:18","h":21129},{"t":"2021-05-12T17:28","h":21133},{"t":"2021-05-12T17:46","h":21135},
    {"t":"2021-05-12T18:00","h":21137},{"t":"2021-05-12T18:14","h":21140},{"t":"2021-05-12T18:31","h":21143},{"t":"2021-05-12T18:45","h":21142},
    {"t":"2021-05-12T18:59","h":21143},{"t":"2021-05-12T19:10","h":21146},{"t":"2021-05-12T19:20","h":21148},{"t":"2021-05-12T19:31","h":21147},
    {"t":"2021-05-12T19:45","h":21148},{"t":"2021-05-12T19:59","h":21148},{"t":"2021-05-12T20:13","h":21148},{"t":"2021-05-12T20:24","h":21143},
    {"t":"2021-05-12T20:34","h":21141},{"t":"2021-05-12T20:45","h":21141},{"t":"2021-05-12T20:55","h":21136},{"t":"2021-05-12T21:02","h":21134},
    {"t":"2021-05-12T21:09","h":21130},{"t":"2021-05-12T21:16","h":21134},{"t":"2021-05-12T21:25","h":21137},{"t":"2021-05-12T21:30","h":21134},
    {"t":"2021-05-12T21:37","h":21130},{"t":"2021-05-12T21:43","h":21129},{"t":"2021-05-12T21:48","h":21142},{"t":"2021-05-12T21:53","h":21158},
    {"t":"2021-05-12T21:57","h":21161},{"t":"2021-05-12T22:02","h":21160},{"t":"2021-05-12T22:07","h":21163},{"t":"2021-05-12T22:13","h":21164},
    {"t":"2021-05-12T22:20","h":21160},{"t":"2021-05-12T22:27","h":21156},{"t":"2021-05-12T22:37","h":21151},{"t":"2021-05-12T22:48","h":21148},
    {"t":"2021-05-12T22:58","h":21144},{"t":"2021-05-12T23:09","h":21140},{"t":"2021-05-12T23:19","h":21141},{"t":"2021-05-12T23:30","h":21141},
    {"t":"2021-05-12T23:44","h":21141},{"t":"2021-05-12T23:54","h":21141},{"t":"2021-05-13T00:02","h":21146},{"t":"2021-05-13T00:09","h":21141},
    {"t":"2021-05-13T00:19","h":21144},{"t":"2021-05-13T00:30","h":21142},{"t":"2021-05-13T00:40","h":21140},{"t":"2021-05-13T00:51","h":21140},
    {"t":"2021-05-13T01:01","h":21138},{"t":"2021-05-13T01:15","h":21137},{"t":"2021-05-13T01:26","h":21141},{"t":"2021-05-13T01:36","h":21144},
    {"t":"2021-05-13T01:43","h":21147},{"t":"2021-05-13T01:50","h":21143},{"t":"2021-05-13T02:01","h":21146},{"t":"2021-05-13T02:12","h":21148},
    {"t":"2021-05-13T02:22","h":21149},{"t":"2021-05-13T02:33","h":21150},{"t":"2021-05-13T02:43","h":21152},{"t":"2021-05-13T02:54","h":21154},
    {"t":"2021-05-13T03:04","h":21156},{"t":"2021-05-13T03:15","h":21157},{"t":"2021-05-13T03:25","h":21157},{"t":"2021-05-13T03:36","h":21157},
    {"t":"2021-05-13T03:46","h":21157},{"t":"2021-05-13T03:57","h":21160},{"t":"2021-05-13T04:04","h":21160},{"t":"2021-05-13T04:14","h":21157},
    {"t":"2021-05-13T04:25","h":21156},{"t":"2021-05-13T04:39","h":21155},{"t":"2021-05-13T04:53","h":21155},{"t":"2021-05-13T05:07","h":21155},
    {"t":"2021-05-13T05:21","h":21155},{"t":"2021-05-13T05:32","h":21152},{"t":"2021-05-13T05:42","h":21149},{"t":"2021-05-13T05:56","h":21147},
    {"t":"2021-05-13T06:03","h":21146}
  ],
  "cme": [{"t":"2021-05-12T05:52","t0":"2021-05-12T05:33","t1":"2021-05-12T06:11"}],
  "ssc": [{"t":"2021-05-12T06:37:32","t0":"2021-05-12T06:19:30","t1":"2021-05-12T06:55:30"}],
  "note1": [{"t":"2021-05-13T01:28","y":551.5,"b0":"2021-05-13T01:17","b1":"2021-05-13T05:17","y0":457,"y1":548,"label":"CME at L1:\n05:52:00 UTC\nv = 444 km/s"}],
  "note3": [{"t":"2021-05-13T01:28","y":21240,"b0":"2021-05-13T01:17","b1":"2021-05-13T05:17","y0":21166.5,"y1":21245,"label":"SSC:\n06:37:32 UTC\ndH = 13.0 nT"}]
},
"vconcat": [
  {
    "spacing": 4,
    "vconcat": [
  {
    "width": 773, "height": 144,
    "title": {"text": "Geomagnetic storm on 2021-05-12 in satellite (NOAA L1) and magnetic (Conrad Obs/WIC) data", "frame": "group", "anchor": "middle", "font": "DejaVu Sans", "fontSize": 18.4, "fontWeight": "normal", "color": "#262626", "offset": 0, "dy": 1.5, "dx": -3},
    "layer": [
      {"data": {"name": "vsw"}, "mark": {"type": "line", "color": "green", "strokeWidth": 1, "invalid": "break-paths-show-domains", "clip": true},
       "encoding": {
         "x": {"field": "t", "type": "temporal", "title": null, "scale": {"domain": [{"year":2021,"month":5,"date":12,"hours":2,"minutes":55},{"year":2021,"month":5,"date":13,"hours":6,"minutes":3}]},
               "axis": {"labels": false, "title": null, "labelPadding": 0, "minExtent": 0, "maxExtent": 0, "values": [{"year":2021,"month":5,"date":12,"hours":5},{"year":2021,"month":5,"date":12,"hours":8},{"year":2021,"month":5,"date":12,"hours":11},{"year":2021,"month":5,"date":12,"hours":14},{"year":2021,"month":5,"date":12,"hours":17},{"year":2021,"month":5,"date":12,"hours":20},{"year":2021,"month":5,"date":12,"hours":23},{"year":2021,"month":5,"date":13,"hours":2},{"year":2021,"month":5,"date":13,"hours":5}]}},
         "y": {"field": "v", "type": "quantitative", "title": "vsw [km/s]", "scale": {"domain": [293, 548], "nice": false, "zero": false}, "axis": {"values": [300, 400, 500]}}
       }},
      {"data": {"name": "cme"}, "mark": {"type": "rect", "color": "#808080", "opacity": 0.3},
       "encoding": {"x": {"field": "t0", "type": "temporal", "title": null}, "x2": {"field": "t1"}}},
      {"data": {"name": "cme"}, "mark": {"type": "rule", "color": "#808080", "strokeWidth": 2, "strokeDash": [7, 3.5]},
       "encoding": {"x": {"field": "t", "type": "temporal", "title": null}}},
      {"data": {"name": "note1"}, "mark": {"type": "rect", "fill": "white", "stroke": null},
       "encoding": {"x": {"field": "b0", "type": "temporal", "title": null}, "x2": {"field": "b1"}, "y": {"field": "y0", "type": "quantitative", "title": "vsw [km/s]"}, "y2": {"field": "y1"}}},
      {"data": {"name": "note1"}, "mark": {"type": "text", "align": "left", "baseline": "top", "lineBreak": "\n", "lineHeight": 16.8, "fontSize": 14.8, "color": "#262626"},
       "encoding": {"x": {"field": "t", "type": "temporal", "title": null}, "y": {"field": "y", "type": "quantitative", "title": "vsw [km/s]"}, "text": {"field": "label"}}}
    ]
  },
  {
    "width": 773, "height": 143,
    "layer": [
      {"data": {"name": "bz"}, "mark": {"type": "line", "color": "black", "strokeWidth": 1, "invalid": "break-paths-show-domains", "clip": true},
       "encoding": {
         "x": {"field": "t", "type": "temporal", "title": null, "scale": {"domain": [{"year":2021,"month":5,"date":12,"hours":2,"minutes":55},{"year":2021,"month":5,"date":13,"hours":6,"minutes":3}]},
               "axis": {"labels": false, "title": null, "labelPadding": 0, "minExtent": 0, "maxExtent": 0, "values": [{"year":2021,"month":5,"date":12,"hours":5},{"year":2021,"month":5,"date":12,"hours":8},{"year":2021,"month":5,"date":12,"hours":11},{"year":2021,"month":5,"date":12,"hours":14},{"year":2021,"month":5,"date":12,"hours":17},{"year":2021,"month":5,"date":12,"hours":20},{"year":2021,"month":5,"date":12,"hours":23},{"year":2021,"month":5,"date":13,"hours":2},{"year":2021,"month":5,"date":13,"hours":5}]}},
         "y": {"field": "bz", "type": "quantitative", "title": "IMF Bz [nT]", "scale": {"domain": [-16.1, 21.1], "nice": false, "zero": false}, "axis": {"values": [-10, 0, 10, 20]}}
       }},
      {"mark": {"type": "rule", "color": "#808080", "strokeWidth": 1, "strokeDash": [4.5, 2]},
       "encoding": {"y": {"datum": 0, "type": "quantitative", "title": "IMF Bz [nT]"}}},
      {"data": {"name": "cme"}, "mark": {"type": "rect", "color": "#808080", "opacity": 0.3},
       "encoding": {"x": {"field": "t0", "type": "temporal", "title": null}, "x2": {"field": "t1"}}},
      {"data": {"name": "cme"}, "mark": {"type": "rule", "color": "#808080", "strokeWidth": 2, "strokeDash": [7, 3.5]},
       "encoding": {"x": {"field": "t", "type": "temporal", "title": null}}}
    ]
  }
    ]
  },
  {
    "width": 773, "height": 142,
    "layer": [
      {"data": {"name": "hh"}, "mark": {"type": "line", "color": "blue", "strokeWidth": 1, "clip": true},
       "encoding": {
         "x": {"field": "t", "type": "temporal", "title": "Time (UTC)", "scale": {"domain": [{"year":2021,"month":5,"date":12,"hours":2,"minutes":55},{"year":2021,"month":5,"date":13,"hours":6,"minutes":3}]},
               "axis": {"title": "Time (UTC)", "labelFlush": false, "labelPadding": 14, "labelLineHeight": 16, "titlePadding": 4, "labelExpr": "[timeFormat(datum.value, '%Y-%m-%d'), timeFormat(datum.value, '%H:%M')]", "values": [{"year":2021,"month":5,"date":12,"hours":5},{"year":2021,"month":5,"date":12,"hours":8},{"year":2021,"month":5,"date":12,"hours":11},{"year":2021,"month":5,"date":12,"hours":14},{"year":2021,"month":5,"date":12,"hours":17},{"year":2021,"month":5,"date":12,"hours":20},{"year":2021,"month":5,"date":12,"hours":23},{"year":2021,"month":5,"date":13,"hours":2},{"year":2021,"month":5,"date":13,"hours":5}]}},
         "y": {"field": "h", "type": "quantitative", "title": "H [nT]", "scale": {"domain": [21037, 21235], "nice": false, "zero": false}, "axis": {"values": [21050, 21100, 21150, 21200], "format": "d"}}
       }},
      {"data": {"name": "ssc"}, "mark": {"type": "rect", "color": "red", "opacity": 0.3},
       "encoding": {"x": {"field": "t0", "type": "temporal", "title": "Time (UTC)"}, "x2": {"field": "t1"}}},
      {"data": {"name": "ssc"}, "mark": {"type": "rule", "color": "red", "strokeWidth": 2, "strokeDash": [7, 3.5]},
       "encoding": {"x": {"field": "t", "type": "temporal", "title": "Time (UTC)"}}},
      {"data": {"name": "note3"}, "mark": {"type": "rect", "fill": "white", "stroke": null},
       "encoding": {"x": {"field": "b0", "type": "temporal", "title": "Time (UTC)"}, "x2": {"field": "b1"}, "y": {"field": "y0", "type": "quantitative", "title": "H [nT]"}, "y2": {"field": "y1"}}},
      {"data": {"name": "note3"}, "mark": {"type": "text", "align": "left", "baseline": "top", "lineBreak": "\n", "lineHeight": 16.8, "fontSize": 14.8, "color": "#262626"},
       "encoding": {"x": {"field": "t", "type": "temporal", "title": "Time (UTC)"}, "y": {"field": "y", "type": "quantitative", "title": "H [nT]"}, "text": {"field": "label"}}}
    ]
  }
]
}
